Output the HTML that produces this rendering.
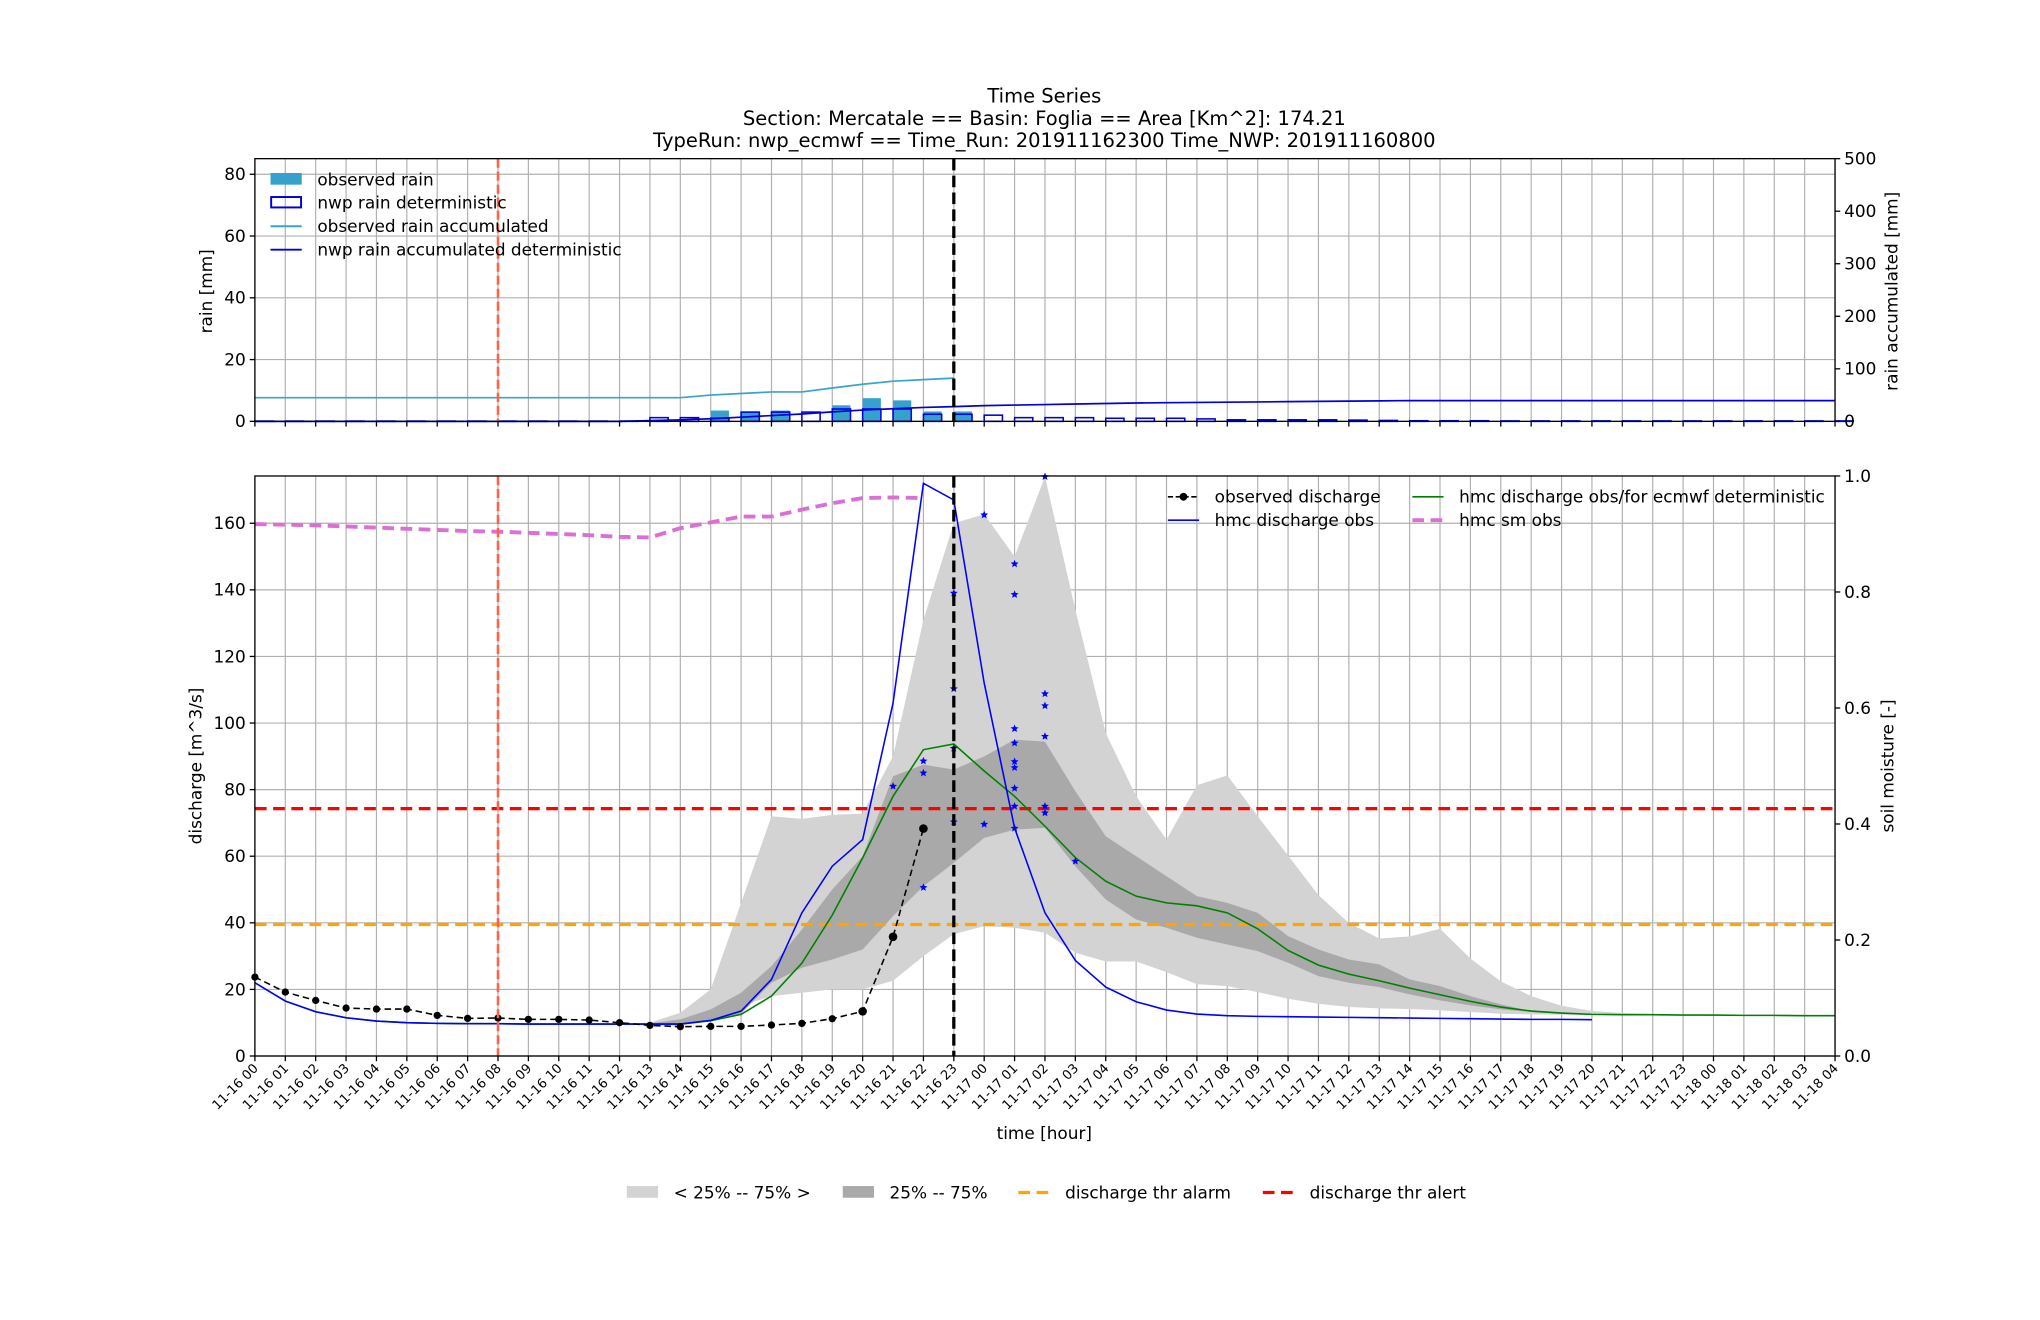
<!DOCTYPE html>
<html><head><meta charset="utf-8">
<style>
html,body{margin:0;padding:0;background:#fff;}
svg{display:block;font-family:"DejaVu Sans","Liberation Sans",sans-serif;}
</style></head>
<body>
<svg id="chart" width="2040" height="1320" viewBox="0 0 1568.6 1015" preserveAspectRatio="none" xmlns="http://www.w3.org/2000/svg">
<g id="titles" font-size="15" text-anchor="middle" fill="#000">
<text x="803" y="79">Time Series</text>
<text x="803" y="96">Section: Mercatale == Basin: Foglia == Area [Km^2]: 174.21</text>
<text x="803" y="113">TypeRun: nwp_ecmwf == Time_Run: 201911162300 Time_NWP: 201911160800</text>
</g>
<g id="topPanel"></g>
<g id="botPanel"></g>
<g id="legends"></g>
</svg>
<script>
// ---- data ----
const hours = [];
const obsRain = [0,0,0,0,0,0,0,0,0,0,0,0,0,0,0,3.5,3.0,3.5,0,5.2,7.5,6.8,3.2,3.2];
const nwpRain = [0.1,0.1,0.1,0.1,0.1,0.1,0.1,0.1,0.1,0.1,0.1,0.1,0.1,1.2,1.2,1,3,3,3,4,4,4,2.3,2.3,2,1.2,1.2,1.2,1,1,1,0.8,0.5,0.5,0.5,0.5,0.4,0.3,0.2,0.2,0.2,0.15,0.15,0.15,0.15,0.15,0.15,0.15,0.15,0.15,0.15,0.15,0.15];
const obsRainAcc = [45,45,45,45,45,45,45,45,45,45,45,45,45,45,45,50,53,56,56,63.5,70.6,76.4,79.4,82.3];
const nwpRainAcc = [0,0,0,0,0,0,0,0,0,0,0,0,0,1.5,3,5,8,11,14,18,21.5,24,26.5,28,30,31,32,33,34,35,35.5,36,36.5,37,37.5,38,38.5,39,39.5,39.5,39.5,39.5,39.5,39.5,39.5,39.5,39.5,39.5,39.5,39.5,39.5,39.5,39.5];
const obsQ = [23.7,19.2,16.7,14.4,14.1,14.1,12.2,11.3,11.4,11,11,10.8,10,9.2,8.8,8.9,8.9,9.3,9.8,11.2,13.4,35.8,68.3];
const hmcObs = [22,16.5,13.3,11.5,10.5,10,9.8,9.7,9.7,9.6,9.6,9.6,9.6,9.6,9.6,10.7,13.5,23,43,57,65,106,172,167,112,68.5,43,28.7,20.7,16.3,13.8,12.6,12.1,11.9,11.8,11.7,11.6,11.5,11.4,11.3,11.2,11.1,11.0,11.0,10.9];
const hmcFor = [22,16.5,13.3,11.5,10.5,10,9.8,9.7,9.7,9.6,9.6,9.6,9.6,9.6,9.6,10.6,12.5,18,27.9,42.3,59.5,78,92,93.7,85.6,78,69,59.6,52.5,48,46,45.1,43,38.2,31.7,27.3,24.6,22.6,20.4,18.4,16.4,14.7,13.5,12.9,12.5,12.4,12.4,12.3,12.3,12.2,12.2,12.1,12.1];
const bandStart = 13;
const lightUp = [10,13,20,46,72,71.2,72.4,72.8,90,131,160,162.7,150,174,134,97,78,65,81.3,84.3,72,60.2,48.3,40,35.3,35.9,38.2,29.3,22.4,18,15.1,13.5,12.9,12.6,12.5,12.4,12.3,12.2,12.2,12.1];
const lightLo = [9,9.2,10.5,15,18,19,20,20,22.6,30,36.6,39,38.5,37,31,28.4,28.4,25.2,21.6,21,19.2,17.2,15.7,14.7,14.3,14.1,13.7,13.2,12.7,12.5,12.4,12.3,12.3,12.2,12.2,12.1,12.1,12.1,12.1,12.1];
const darkUp = [9.8,11,14,19,27,38,50,60,84,87.5,86,90,95,94.4,79.5,66,60,54,48,46,43,36,32,29,27.5,23,21,18,15.5,13.5,12.8,12.5,12.4,12.3,12.3,12.2,12.2,12.1,12.1,12.1];
const darkLo = [9.3,9.5,10.5,12.7,22,26.5,29,32,42,51,58,65.5,68,68.5,57,47,41,38.5,35.5,33.5,31.5,28,24,22,20.7,18.5,16.7,15.2,14,13.2,12.7,12.4,12.3,12.2,12.2,12.1,12.1,12.1,12.1,12.1];
const starIdx = [21,22,22,22,23,23,23,23,24,24,25,25,25,25,25,25,25,25,25,26,26,26,26,26,26,27];
const starVal = [81,88.6,85,50.6,139,110.3,92.4,70.3,162.5,69.6,147.8,138.6,98.3,94,88.4,86.6,80.4,75,68.4,174,108.8,105.2,96,75,73,58.5];
const soilMoist = [0.917,0.916,0.915,0.913,0.911,0.909,0.907,0.905,0.904,0.902,0.9,0.898,0.895,0.894,0.91,0.92,0.93,0.93,0.942,0.953,0.962,0.963,0.962];
const thrAlert = 74.3, thrAlarm = 39.5;
const runIdx = 23, nwpIdx = 8;
const rainTicks = [0,20,40,60,80], accTicks = [0,100,200,300,400,500];
const qTicks = [0,20,40,60,80,100,120,140,160], smTicks = [0,0.2,0.4,0.6,0.8,1.0];
for (let i=0;i<=52;i++){const d=i<24?16:(i<48?17:18);const h=i%24;hours.push('11-'+d+' '+String(h).padStart(2,'0'));}

// ---- geometry ----
const L=196,R=1411,TT=122,TB=324,BT=366,BB=812;
const x=i=>L+i*(R-L)/52;
const yR=v=>TB-v*(TB-TT)/85.05, yA=v=>TB-v*(TB-TT)/500;
const yQ=v=>BB-v*(BB-BT)/174.2, yS=v=>BB-v*(BB-BT);
const NS='http://www.w3.org/2000/svg';
function mk(tag,attrs,parent){const e=document.createElementNS(NS,tag);for(const k in attrs)e.setAttribute(k,attrs[k]);parent.appendChild(e);return e;}
const gTop=document.getElementById('topPanel'), gBot=document.getElementById('botPanel'), gLeg=document.getElementById('legends');
function pts(arr,fy,off){return arr.map((v,i)=>x(i+(off||0)).toFixed(2)+','+fy(v).toFixed(2)).join(' ');}

function grid(g,yt,yb,yTicks,fy){
  for(let i=0;i<=52;i++){const l=mk('line',{x1:x(i),x2:x(i),y1:yt,y2:yb,stroke:'#b0b0b0','stroke-width':0.9},g);}
  yTicks.forEach(t=>{const l=mk('line',{x1:L,x2:R,y1:fy(t),y2:fy(t),stroke:'#b0b0b0','stroke-width':0.9},g);});
}
function frame(g,yt,yb){const r=mk('rect',{x:L,y:yt,width:R-L,height:yb-yt,fill:'none',stroke:'#000','stroke-width':1},g);}
function yticks(g,ticks,fy,side,fmt){
  ticks.forEach(t=>{const xx=side<0?L:R;mk('line',{x1:xx,x2:xx+side*4,y1:fy(t),y2:fy(t),stroke:'#000'},g);
    const tx=mk('text',{x:xx+side*7,y:fy(t)+4.5,'font-size':13,'text-anchor':side<0?'end':'start'},g);tx.textContent=fmt(t);
    });
}
function xtickMarks(g,yb){for(let i=0;i<=52;i++)mk('line',{x1:x(i),x2:x(i),y1:yb,y2:yb+4,stroke:'#000'},g);}

// ---- top panel ----
grid(gTop,TT,TB,rainTicks,yR);
obsRain.forEach((v,i)=>{if(v<=0)return;const r=mk('rect',{x:x(i),y:yR(v),width:0.6*(R-L)/52,height:TB-yR(v),fill:'#36a2cc'},gTop);});
nwpRain.forEach((v,i)=>{const r=mk('rect',{x:x(i),y:yR(v),width:0.6*(R-L)/52,height:TB-yR(v),fill:'none',stroke:'#0000dd','stroke-width':1.2},gTop);});
let p=mk('polyline',{points:pts(obsRainAcc,yA),fill:'none',stroke:'#3aa3cc','stroke-width':1.3},gTop);

p=mk('polyline',{points:pts(nwpRainAcc,yA),fill:'none',stroke:'#0000dd','stroke-width':1.3},gTop);

let vl=mk('line',{x1:x(nwpIdx),x2:x(nwpIdx),y1:TT,y2:TB,stroke:'#ff6347','stroke-width':2,'stroke-dasharray':'7,3'},gTop);
vl=mk('line',{x1:x(runIdx),x2:x(runIdx),y1:TT,y2:TB,stroke:'#000','stroke-width':2.5,'stroke-dasharray':'9,4'},gTop);
frame(gTop,TT,TB);
yticks(gTop,rainTicks,yR,-1,t=>t);
yticks(gTop,accTicks,yA,1,t=>t);
xtickMarks(gTop,TB);
let t=mk('text',{transform:'translate(163,224) rotate(-90)','font-size':13,'text-anchor':'middle'},gTop);t.textContent='rain [mm]';
t=mk('text',{transform:'translate(1459,224) rotate(-90)','font-size':13,'text-anchor':'middle'},gTop);t.textContent='rain accumulated [mm]';

// ---- bottom panel ----
grid(gBot,BT,BB,qTicks,yQ);
function band(up,lo,fill,name){
  const a=up.map((v,i)=>x(i+bandStart)+','+yQ(v)), b=lo.map((v,i)=>x(i+bandStart)+','+yQ(v)).reverse();
  const pg=mk('polygon',{points:a.concat(b).join(' '),fill:fill,stroke:'none'},gBot);
}
band(lightUp,lightLo,'#d3d3d3','band-25-75-outer');
band(darkUp,darkLo,'#a9a9a9','band-25-75-inner');
let hl=mk('line',{x1:L,x2:R,y1:yQ(thrAlert),y2:yQ(thrAlert),stroke:'#ff0000','stroke-width':2.5,'stroke-dasharray':'9,5'},gBot);
hl=mk('line',{x1:L,x2:R,y1:yQ(thrAlarm),y2:yQ(thrAlarm),stroke:'#ffa500','stroke-width':2.5,'stroke-dasharray':'9,5'},gBot);
p=mk('polyline',{points:pts(soilMoist,yS),fill:'none',stroke:'#da70d6','stroke-width':3,'stroke-dasharray':'9,5'},gBot);
p=mk('polyline',{points:pts(hmcFor,yQ),fill:'none',stroke:'#008000','stroke-width':1.2},gBot);
p=mk('polyline',{points:pts(hmcObs,yQ),fill:'none',stroke:'#0000ff','stroke-width':1.2},gBot);
p=mk('polyline',{points:pts(obsQ,yQ),fill:'none',stroke:'#000','stroke-width':1.2,'stroke-dasharray':'5,3'},gBot);
obsQ.forEach((v,i)=>{const c=mk('circle',{cx:x(i),cy:yQ(v),r:i>=20?3.3:2.8,fill:'#000'},gBot);});
function starPath(cx,cy,r){let d='';for(let k=0;k<10;k++){const a=-Math.PI/2+k*Math.PI/5,rr=k%2?r*0.45:r;d+=(k?'L':'M')+(cx+rr*Math.cos(a)).toFixed(2)+','+(cy+rr*Math.sin(a)).toFixed(2);}return d+'Z';}
starVal.forEach((v,k)=>{const s=mk('path',{d:starPath(x(starIdx[k]),yQ(v),3.2),fill:'#0000ff'},gBot);});
vl=mk('line',{x1:x(nwpIdx),x2:x(nwpIdx),y1:BT,y2:BB,stroke:'#ff6347','stroke-width':2,'stroke-dasharray':'7,3'},gBot);
vl=mk('line',{x1:x(runIdx),x2:x(runIdx),y1:BT,y2:BB,stroke:'#000','stroke-width':2.5,'stroke-dasharray':'9,4'},gBot);
frame(gBot,BT,BB);
yticks(gBot,qTicks,yQ,-1,t=>t);
yticks(gBot,smTicks,yS,1,t=>t.toFixed(1));
xtickMarks(gBot,BB);
hours.forEach((h,i)=>{const tx=mk('text',{transform:'translate('+(x(i)+3)+','+(BB+10)+') rotate(-45)','font-size':10,'text-anchor':'end'},gBot);tx.textContent=h;});
t=mk('text',{transform:'translate(155,589) rotate(-90)','font-size':13,'text-anchor':'middle'},gBot);t.textContent='discharge [m^3/s]';
t=mk('text',{transform:'translate(1456,589) rotate(-90)','font-size':13,'text-anchor':'middle'},gBot);t.textContent='soil moisture [-]';
t=mk('text',{x:803,y:876,'font-size':13,'text-anchor':'middle'},gBot);t.textContent='time [hour]';

// ---- legends ----
function legItem(kind,x0,y0,txt,style,name){
  const g=mk('g',{},gLeg);
  if(kind==='patch')mk('rect',Object.assign({x:x0,y:y0-5,width:24,height:9},style),g);
  else if(kind==='box')mk('rect',Object.assign({x:x0+0.5,y:y0-4.5,width:23,height:8,fill:'none'},style),g);
  else mk('line',Object.assign({x1:x0,x2:x0+24,y1:y0,y2:y0},style),g);
  if(kind==='marker')mk('circle',{cx:x0+12,cy:y0,r:3,fill:'#000'},g);
  const tx=mk('text',{x:x0+36,y:y0+4.5,'font-size':13},g);tx.textContent=txt;
}
legItem('patch',208,138,'observed rain',{fill:'#36a2cc'},'legend-observed-rain');
legItem('box',208,156,'nwp rain deterministic',{stroke:'#0000dd','stroke-width':1.5},'legend-nwp-rain');
legItem('line',208,174,'observed rain accumulated',{stroke:'#3aa3cc','stroke-width':1.5},'legend-observed-rain-accumulated');
legItem('line',208,192,'nwp rain accumulated deterministic',{stroke:'#0000dd','stroke-width':1.5},'legend-nwp-rain-accumulated');
legItem('marker',898,382,'observed discharge',{stroke:'#000','stroke-width':1.2,'stroke-dasharray':'4,2'},'legend-observed-discharge');
legItem('line',898,400,'hmc discharge obs',{stroke:'#0000ff','stroke-width':1.3},'legend-hmc-discharge-obs');
legItem('line',1086,382,'hmc discharge obs/for ecmwf deterministic',{stroke:'#008000','stroke-width':1.3},'legend-hmc-discharge-forecast');
legItem('line',1086,400,'hmc sm obs',{stroke:'#da70d6','stroke-width':3,'stroke-dasharray':'9,5'},'legend-hmc-sm-obs');
legItem('patch',482,917,'< 25% -- 75% >',{fill:'#d3d3d3'},'legend-band-outer');
legItem('patch',648,917,'25% -- 75%',{fill:'#a9a9a9'},'legend-band-inner');
legItem('line',783,917,'discharge thr alarm',{stroke:'#ffa500','stroke-width':2.5,'stroke-dasharray':'9,5'},'legend-threshold-alarm');
legItem('line',971,917,'discharge thr alert',{stroke:'#ff0000','stroke-width':2.5,'stroke-dasharray':'9,5'},'legend-threshold-alert');
</script>
</body></html>
